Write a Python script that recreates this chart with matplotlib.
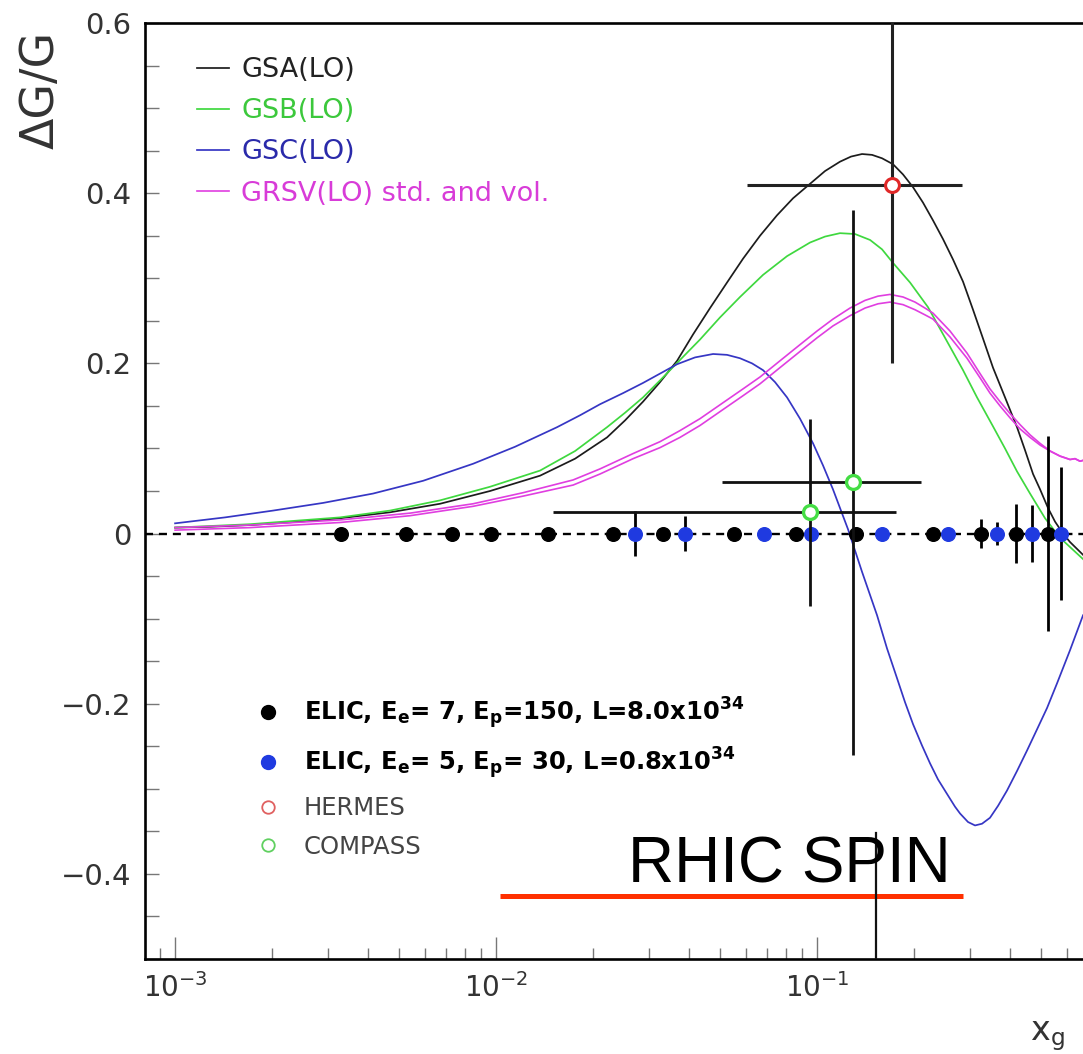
import matplotlib
matplotlib.use("Agg")
import matplotlib.pyplot as plt
from matplotlib.ticker import LogLocator, MultipleLocator, FixedLocator, FixedFormatter, NullFormatter, LogFormatterMathtext
from matplotlib.lines import Line2D

plt.rcParams['font.family'] = ['DejaVu Sans']
plt.rcParams['mathtext.fontset'] = 'dejavusans'

# ---- polarized gluon parametrisations, Delta G / G vs x_g ----
gsa_x = [0.001000, 0.001285, 0.001713, 0.002450, 0.003266, 0.004675, 0.006690, 0.009579,
         0.01371, 0.01763, 0.02217, 0.02523, 0.02870, 0.03243, 0.03664, 0.04109, 0.04642,
         0.05243, 0.05881, 0.06644, 0.07504, 0.08419, 0.09510, 0.1059, 0.1179, 0.1276,
         0.1381, 0.1484, 0.1594, 0.1725, 0.1853, 0.1991, 0.2138, 0.2298, 0.2469, 0.2653,
         0.2850, 0.3062, 0.3290, 0.3533, 0.3852, 0.4198, 0.4446, 0.4709, 0.4952, 0.5244,
         0.5514, 0.5840, 0.6141, 0.6741]
gsa_y = [0.007, 0.008, 0.010, 0.014, 0.018, 0.025, 0.035, 0.050,
         0.068, 0.088, 0.113, 0.133, 0.155, 0.178, 0.203, 0.234, 0.265,
         0.295, 0.323, 0.350, 0.374, 0.394, 0.411, 0.426, 0.437, 0.443,
         0.446, 0.445, 0.441, 0.434, 0.422, 0.407, 0.389, 0.368, 0.346, 0.322,
         0.296, 0.263, 0.229, 0.195, 0.160, 0.125, 0.098, 0.070, 0.052, 0.030,
         0.014, 0.000, -0.010, -0.025]

gsb_x = [0.001000, 0.001713, 0.003266, 0.004675, 0.006690, 0.009579, 0.01371, 0.01763,
         0.02217, 0.02523, 0.02870, 0.03243, 0.03742, 0.04319, 0.04986, 0.05755, 0.06789,
         0.08064, 0.09510, 0.1059, 0.1179, 0.1313, 0.1463, 0.1594, 0.1725, 0.1949, 0.2217,
         0.2505, 0.2850, 0.3151, 0.3533, 0.3852, 0.4198, 0.4609, 0.5133, 0.5715, 0.6741]
gsb_y = [0.007, 0.011, 0.019, 0.027, 0.039, 0.055, 0.074, 0.097,
         0.125, 0.142, 0.160, 0.180, 0.204, 0.228, 0.254, 0.278, 0.304,
         0.326, 0.342, 0.349, 0.353, 0.352, 0.345, 0.334, 0.318, 0.295, 0.266,
         0.230, 0.192, 0.160, 0.126, 0.100, 0.073, 0.047, 0.018, -0.005, -0.030]

gsc_x = [0.001000, 0.001432, 0.002020, 0.002891, 0.004138, 0.005925, 0.008479, 0.01146,
         0.01549, 0.01827, 0.02109, 0.02486, 0.02870, 0.03243, 0.03664, 0.04168, 0.04743,
         0.05243, 0.05755, 0.06272, 0.06789, 0.07397, 0.08064, 0.08851, 0.09717, 0.1044,
         0.1121, 0.1249, 0.1381, 0.1538, 0.1652, 0.1775, 0.1879, 0.1991, 0.2123, 0.2249,
         0.2382, 0.2541, 0.2691, 0.2790, 0.2954, 0.3106, 0.3266, 0.3458, 0.3663, 0.3907,
         0.4198, 0.4510, 0.4847, 0.5207, 0.5594, 0.6141, 0.6741]
gsc_y = [0.012, 0.019, 0.027, 0.036, 0.047, 0.062, 0.082, 0.102,
         0.125, 0.139, 0.152, 0.165, 0.177, 0.188, 0.199, 0.207, 0.211,
         0.210, 0.206, 0.200, 0.192, 0.178, 0.160, 0.135, 0.106, 0.080,
         0.052, 0.005, -0.045, -0.096, -0.135, -0.170, -0.198, -0.224, -0.249, -0.270,
         -0.289, -0.306, -0.321, -0.329, -0.339, -0.343, -0.341, -0.334, -0.320, -0.302,
         -0.279, -0.255, -0.230, -0.205, -0.176, -0.137, -0.096]

grsv_x = [0.001000, 0.001713, 0.003266, 0.005398, 0.008479, 0.01214, 0.01738, 0.02109,
          0.02672, 0.03243, 0.03742, 0.04319, 0.05243, 0.05881, 0.06644, 0.07666, 0.08851,
          0.1000, 0.1121, 0.1267, 0.1411, 0.1549, 0.1688, 0.1853, 0.2020, 0.2169, 0.2298,
          0.2596, 0.2933, 0.3220, 0.3458, 0.3716, 0.3992, 0.4289, 0.4609, 0.4952, 0.5320,
          0.5514, 0.5715, 0.5925, 0.6141, 0.6364, 0.6597, 0.6741]
grsv_std_y = [0.007, 0.010, 0.016, 0.024, 0.035, 0.048, 0.063, 0.076,
              0.094, 0.108, 0.121, 0.135, 0.157, 0.170, 0.184, 0.203, 0.222,
              0.238, 0.252, 0.265, 0.274, 0.279, 0.281, 0.278, 0.272, 0.265, 0.259,
              0.238, 0.212, 0.188, 0.170, 0.155, 0.141, 0.128, 0.116, 0.106, 0.097,
              0.094, 0.091, 0.089, 0.087, 0.088, 0.085, 0.086]
grsv_val_y = [0.004, 0.007, 0.013, 0.021, 0.032, 0.044, 0.057, 0.070,
              0.088, 0.101, 0.113, 0.127, 0.149, 0.162, 0.176, 0.195, 0.214,
              0.230, 0.244, 0.256, 0.265, 0.270, 0.272, 0.269, 0.263, 0.257, 0.252,
              0.231, 0.206, 0.183, 0.165, 0.150, 0.136, 0.123, 0.113, 0.104, 0.097,
              0.094, 0.091, 0.089, 0.087, 0.088, 0.085, 0.086]

# ---- projected ELIC measurements (centred on zero) ----
elic7_x = [0.00329, 0.00525, 0.00729, 0.00964, 0.0145, 0.0231, 0.0331, 0.0551, 0.0861,
           0.132, 0.230, 0.324, 0.417, 0.525]
elic7_y = [0.0] * 14
elic7_err = [0, 0, 0, 0, 0, 0, 0, 0, 0, 0, 0, 0.017, 0.035, 0.115]

elic5_x = [0.0271, 0.0388, 0.0684, 0.0957, 0.159, 0.256, 0.364, 0.468, 0.575]
elic5_y = [0.0] * 9
elic5_err = [0.026, 0.021, 0, 0, 0, 0, 0.014, 0.033, 0.078]

# ---- existing data ----
hermes_x = [0.171]
hermes_y = [0.41]
hermes_xlo = [0.0604]
hermes_xhi = [0.2825]
hermes_yerr = [0.21]

compass_x = [0.0951, 0.1294]
compass_y = [0.025, 0.060]
compass_xlo = [0.01506, 0.0506]
compass_xhi = [0.176, 0.211]
compass_yerr = [0.11, 0.32]

# ---- RHIC annotation ----
rhic_label = 'RHIC SPIN'
rhic_bar_x = [0.01028, 0.285]
rhic_bar_y = -0.426
rhic_mark_x = 0.153
rhic_mark_y = [-0.352, -0.5]

x_ticks = [1e-3, 1e-2, 1e-1]
y_ticks = [-0.4, -0.2, 0.0, 0.2, 0.4, 0.6]
y_ticklabels = ['\u22120.4', '\u22120.2', '0', '0.2', '0.4', '0.6']

c_gsa = '#1c1c1c'
c_gsb = '#3fd83f'
c_gsc = '#3636c4'
c_grsv = '#e03ee0'

fig = plt.figure(figsize=(10.83, 10.54), dpi=100)
ax = fig.add_axes([0.1339, 0.0901, 0.9169, 0.8881])
ax.set_xscale('log')
ax.set_xlim(8.06e-4, 1.0)
ax.set_ylim(-0.5, 0.6)

# zero line
ax.axhline(0.0, color='black', lw=1.7, dashes=(3.4, 2.5), zorder=2)

l_gsa, = ax.plot(gsa_x, gsa_y, color=c_gsa, lw=1.25, zorder=3)
l_gsb, = ax.plot(gsb_x, gsb_y, color=c_gsb, lw=1.25, zorder=3)
l_gsc, = ax.plot(gsc_x, gsc_y, color=c_gsc, lw=1.25, zorder=3)
l_grsv, = ax.plot(grsv_x, grsv_std_y, color=c_grsv, lw=1.2, zorder=3)
ax.plot(grsv_x, grsv_val_y, color=c_grsv, lw=1.2, zorder=3)

# ELIC projections
ax.errorbar(elic7_x, elic7_y, yerr=elic7_err, fmt='o', color='black', ms=9.8,
            elinewidth=2.0, capsize=0, zorder=5)
ax.errorbar(elic5_x, elic5_y, yerr=elic5_err, fmt='o', color='#1f3ae0', ms=9.8,
            ecolor='black', elinewidth=2.0, capsize=0, zorder=5)

# HERMES and COMPASS
hx_err = [[x - lo for x, lo in zip(hermes_x, hermes_xlo)],
          [hi - x for x, hi in zip(hermes_x, hermes_xhi)]]
ax.errorbar(hermes_x, hermes_y, xerr=hx_err, yerr=hermes_yerr, fmt='o', ms=10,
            mfc='white', mec='#e02828', mew=2.2, ecolor='#222222', elinewidth=2.2,
            capsize=0, zorder=6)
cx_err = [[x - lo for x, lo in zip(compass_x, compass_xlo)],
          [hi - x for x, hi in zip(compass_x, compass_xhi)]]
ax.errorbar(compass_x, compass_y, xerr=cx_err, yerr=compass_yerr, fmt='o', ms=10,
            mfc='white', mec='#44dd44', mew=2.4, ecolor='#111111', elinewidth=2.0,
            capsize=0, zorder=6)

# RHIC spin range
ax.plot(rhic_bar_x, [rhic_bar_y, rhic_bar_y], color='#ff3000', lw=3.6, zorder=4,
        solid_capstyle='butt')
ax.plot([rhic_mark_x, rhic_mark_x], rhic_mark_y, color='#111111', lw=1.6, zorder=4)
ax.text(0.02576, -0.4106, rhic_label, fontsize=46, family=['Liberation Sans', 'DejaVu Sans'],
        color='black', ha='left', va='baseline', zorder=7)

# axes styling
for s in ax.spines.values():
    s.set_linewidth(1.9)
    s.set_color('black')

ax.yaxis.set_major_locator(FixedLocator(y_ticks))
ax.yaxis.set_major_formatter(FixedFormatter(y_ticklabels))
ax.yaxis.set_minor_locator(MultipleLocator(0.05))
ax.xaxis.set_major_locator(FixedLocator(x_ticks))
ax.xaxis.set_major_formatter(LogFormatterMathtext())
ax.xaxis.set_minor_locator(LogLocator(base=10, subs=range(2, 10), numticks=20))
ax.xaxis.set_minor_formatter(NullFormatter())

ax.tick_params(axis='both', which='both', direction='in', colors='#777777',
               labelcolor='#333333', top=False, right=False)
ax.tick_params(axis='y', which='both', length=10, width=1.0, pad=10, labelsize=21)
ax.tick_params(axis='x', which='major', length=16, width=1.0, pad=10, labelsize=20)
ax.tick_params(axis='x', which='minor', length=8, width=1.0)

fig.text(0.0379, 0.915, '\u0394G/G', rotation=90, ha='center', va='center',
         fontsize=33, color='#333333')
fig.text(0.951, 0.0134, r'x$_{\mathrm{g}}$', ha='left', va='baseline', fontsize=24,
         color='#333333')

# legends
leg1 = ax.legend([l_gsa, l_gsb, l_gsc, l_grsv],
                 ['GSA(LO)', 'GSB(LO)', 'GSC(LO)', 'GRSV(LO) std. and vol.'],
                 loc='upper left', bbox_to_anchor=(0.052, 0.9635), frameon=False,
                 fontsize=19.5, handlelength=1.2, handletextpad=0.45,
                 labelspacing=0.56, borderpad=0, borderaxespad=0)
for t, c in zip(leg1.get_texts(), ['#222222', '#3cc83c', '#2a2aaa', '#d83cd8']):
    t.set_color(c)
ax.add_artist(leg1)

h_e7 = Line2D([], [], ls='none', marker='o', ms=10, color='black')
h_e5 = Line2D([], [], ls='none', marker='o', ms=10, color='#1f3ae0')
h_he = Line2D([], [], ls='none', marker='o', ms=9, mfc='white', mec='#e06060', mew=1.3)
h_co = Line2D([], [], ls='none', marker='o', ms=9, mfc='white', mec='#60d060', mew=1.3)
leg2 = ax.legend([h_e7, h_e5, h_he, h_co],
                 [r'ELIC, E$_{\mathbf{e}}$= 7, E$_{\mathbf{p}}$=150, L=8.0x10$^{\mathbf{34}}$',
                  r'ELIC, E$_{\mathbf{e}}$= 5, E$_{\mathbf{p}}$= 30, L=0.8x10$^{\mathbf{34}}$',
                  'HERMES', 'COMPASS'],
                 loc='upper left', bbox_to_anchor=(0.112, 0.282), frameon=False,
                 fontsize=17.5, handlelength=1.0, handletextpad=0.95,
                 labelspacing=0.6, borderpad=0, borderaxespad=0)
for i, t in enumerate(leg2.get_texts()):
    if i < 2:
        t.set_color('black')
        t.set_fontweight('bold')
    else:
        t.set_color('#444444')

fig.savefig('out.png', dpi=100, facecolor='white')
